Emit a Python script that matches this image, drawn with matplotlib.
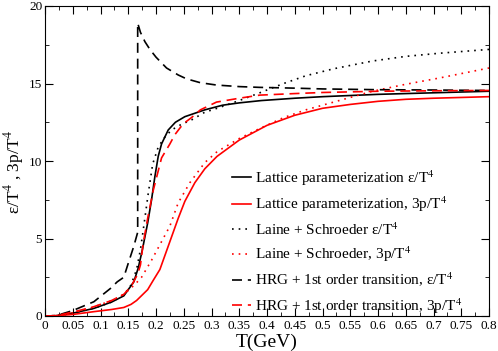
import numpy as np
from matplotlib import pyplot as plt
from matplotlib.ticker import MultipleLocator, FuncFormatter

plt.rcParams['font.family'] = ['Liberation Serif', 'DejaVu Serif']
plt.rcParams['mathtext.fontset'] = 'stix'

# Lattice parameterization
T_lat_e = [0, 0.02, 0.05, 0.088, 0.12, 0.142, 0.16, 0.168, 0.175, 0.185, 0.192, 0.198,
           0.204, 0.21, 0.222, 0.235, 0.252, 0.288, 0.32, 0.35, 0.39, 0.45, 0.5, 0.6, 0.7, 0.8]
e_lat = [0, 0.02, 0.18, 0.49, 0.9, 1.3, 2.2, 3.1, 4.2, 6.0, 7.5, 9.0,
         10.3, 11.1, 12.0, 12.5, 12.86, 13.3, 13.6, 13.75, 13.9, 14.05, 14.15, 14.3, 14.4, 14.5]

T_lat_p = [0, 0.02, 0.05, 0.088, 0.12, 0.142, 0.155, 0.165, 0.175, 0.185, 0.195, 0.207, 0.215,
           0.225, 0.24, 0.252, 0.27, 0.288, 0.31, 0.35, 0.4, 0.45, 0.5, 0.55, 0.6, 0.65, 0.7, 0.8]
p_lat = [0, 0.02, 0.1, 0.28, 0.42, 0.55, 0.75, 1.0, 1.35, 1.7, 2.3, 3.0, 3.8,
         4.8, 6.3, 7.4, 8.6, 9.5, 10.3, 11.35, 12.3, 12.95, 13.4, 13.65, 13.85, 13.98, 14.05, 14.15]

# Laine + Schroeder
T_ls_e = [0, 0.02, 0.05, 0.088, 0.12, 0.142, 0.155, 0.165, 0.172, 0.178, 0.186, 0.194, 0.204, 0.215,
          0.228, 0.245, 0.264, 0.288, 0.31, 0.35, 0.387, 0.43, 0.47, 0.52, 0.59, 0.65, 0.71, 0.8]
e_ls = [0, 0.02, 0.18, 0.5, 0.9, 1.35, 2.0, 3.0, 4.3, 5.8, 7.9, 9.8, 10.9, 11.5,
        12.0, 12.35, 12.65, 13.15, 13.4, 13.9, 14.4, 15.0, 15.5, 15.95, 16.45, 16.75, 16.95, 17.2]

T_ls_p = [0, 0.02, 0.05, 0.088, 0.12, 0.142, 0.155, 0.165, 0.174, 0.192, 0.21, 0.225, 0.24,
          0.261, 0.288, 0.31, 0.35, 0.387, 0.43, 0.47, 0.53, 0.59, 0.65, 0.71, 0.8]
p_ls = [0, 0.02, 0.2, 0.58, 1.0, 1.4, 1.8, 2.15, 2.5, 3.6, 4.8, 5.8, 7.3,
        8.6, 9.9, 10.6, 11.45, 12.1, 12.8, 13.3, 13.9, 14.5, 14.95, 15.35, 16.0]

# HRG + 1st order transition
T_hrg_e = [0, 0.02, 0.05, 0.088, 0.118, 0.13, 0.142, 0.15, 0.16, 0.167, 0.167, 0.172, 0.18, 0.189,
           0.2, 0.219, 0.24, 0.255, 0.28, 0.309, 0.35, 0.387, 0.45, 0.5, 0.6, 0.7, 0.8]
e_hrg = [0, 0.02, 0.35, 0.92, 1.78, 2.2, 2.5, 3.4, 4.5, 5.4, 18.9, 18.3, 17.7, 17.2,
         16.7, 16.0, 15.55, 15.3, 15.05, 14.9, 14.8, 14.75, 14.7, 14.65, 14.6, 14.58, 14.55]

T_hrg_p = [0, 0.02, 0.05, 0.088, 0.12, 0.142, 0.155, 0.167, 0.172, 0.177, 0.185, 0.195, 0.21,
           0.225, 0.234, 0.249, 0.264, 0.28, 0.309, 0.35, 0.387, 0.45, 0.5, 0.6, 0.7, 0.8]
p_hrg = [0, 0.02, 0.25, 0.6, 1.0, 1.4, 1.9, 2.7, 3.3, 4.7, 6.3, 8.1, 10.2,
         11.1, 11.7, 12.4, 12.8, 13.3, 13.8, 14.05, 14.25, 14.35, 14.42, 14.5, 14.53, 14.55]

labels = ['Lattice parameterization ε/T$^4$',
          'Lattice parameterization, 3p/T$^4$',
          'Laine + Schroeder ε/T$^4$',
          'Laine + Schroeder, 3p/T$^4$',
          'HRG + 1st order transition, ε/T$^4$',
          'HRG + 1st order transition, 3p/T$^4$']

fig = plt.figure(figsize=(4.98, 3.51), dpi=100)
ax = fig.add_axes([45/498, 1-316/351, 444/498, 310/351])

lw = 1.2
ax.plot(T_lat_e, e_lat, color='black', lw=lw, label=labels[0])
ax.plot(T_lat_p, p_lat, color='red', lw=lw, label=labels[1])
ax.plot(T_ls_e, e_ls, color='black', lw=lw, ls=(0, (1, 3)), label=labels[2])
ax.plot(T_ls_p, p_ls, color='red', lw=lw, ls=(0, (1, 3)), label=labels[3])
ax.plot(T_hrg_e, e_hrg, color='black', lw=lw, ls=(0, (6, 3.5)), label=labels[4])
ax.plot(T_hrg_p, p_hrg, color='red', lw=lw, ls=(0, (6, 3.5)), label=labels[5])

ax.set_xlim(0, 0.8)
ax.set_ylim(0, 20)
ax.xaxis.set_major_locator(MultipleLocator(0.05))
ax.xaxis.set_minor_locator(MultipleLocator(0.025))
ax.yaxis.set_major_locator(MultipleLocator(5))
ax.yaxis.set_minor_locator(MultipleLocator(2.5))
ax.xaxis.set_major_formatter(FuncFormatter(lambda v, p: '%g' % round(v, 3)))
ax.tick_params(which='both', direction='in', top=True, right=True, labelsize=9.5)
ax.tick_params(which='major', length=6)
ax.tick_params(which='minor', length=3)
ax.tick_params(axis='x', pad=3)
ax.tick_params(axis='y', pad=2)

ax.set_xlabel('T(GeV)', fontsize=14, labelpad=1)
ax.set_ylabel('ε/T$^4$ , 3p/T$^4$', fontsize=12.5)
ax.yaxis.set_label_coords(-0.042, 0.465)

ax.legend(loc='upper left', bbox_to_anchor=(0.408, 0.497), frameon=False, fontsize=11,
          handlelength=1.2, handletextpad=0.3, labelspacing=0.45, borderaxespad=0)

plt.savefig('out.png', dpi=100)
